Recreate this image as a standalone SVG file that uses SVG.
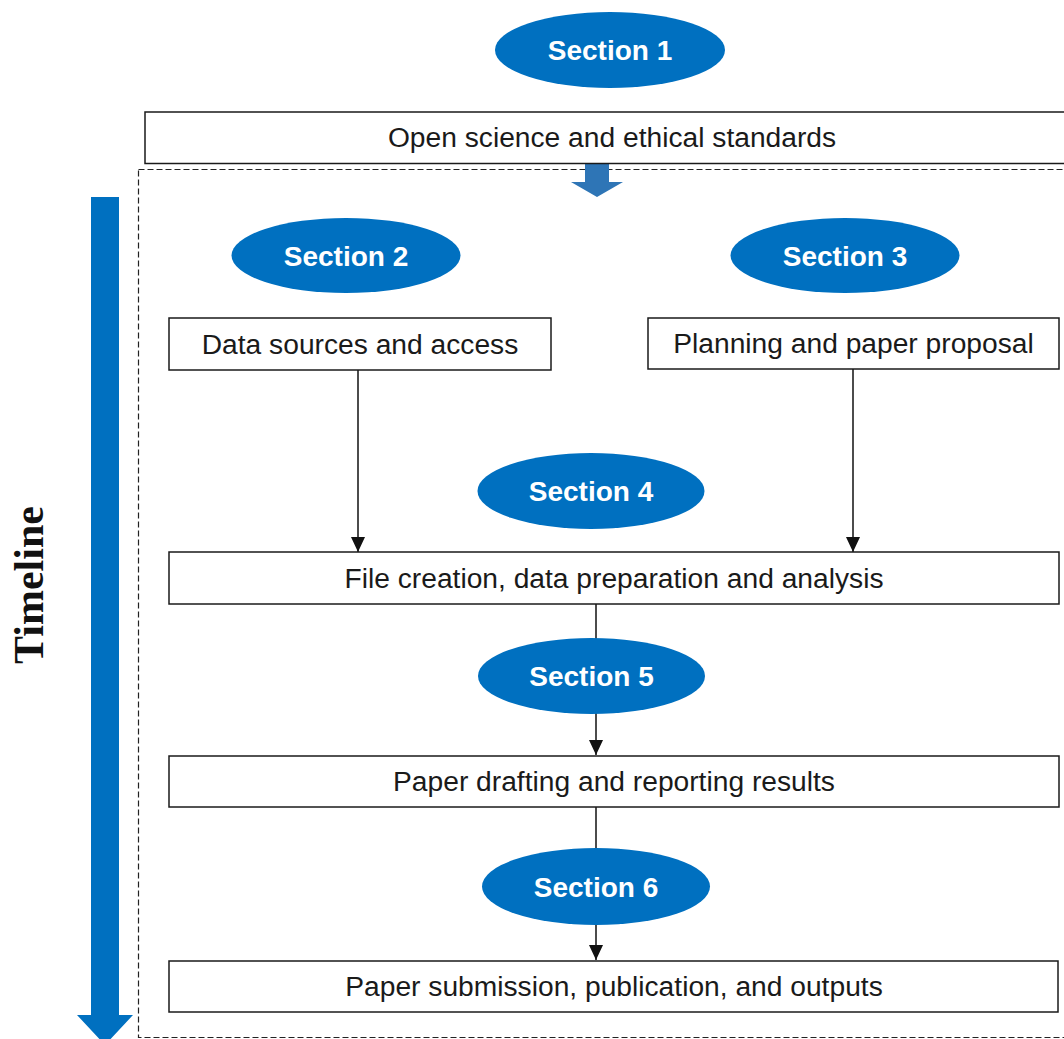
<svg xmlns="http://www.w3.org/2000/svg" width="1064" height="1039" viewBox="0 0 1064 1039">
  <defs>
    <style>
      .box { fill: #ffffff; stroke: #1a1a1a; stroke-width: 1.5; }
      .box-text { font-family: "Liberation Sans", Arial, sans-serif; font-size: 28.2px; fill: #1a1a1a; text-anchor: middle; }
      .sec { fill: #0070C0; }
      .sec-text { font-family: "Liberation Sans", Arial, sans-serif; font-size: 28px; font-weight: bold; fill: #ffffff; text-anchor: middle; }
      .conn { stroke: #111111; stroke-width: 1.5; fill: none; }
    </style>
    <marker id="arrow" viewBox="0 0 15 14" refX="15" refY="7" markerWidth="15" markerHeight="14" markerUnits="userSpaceOnUse" orient="auto">
      <path d="M0,0 L15,7 L0,14 Z" fill="#111111"/>
    </marker>
  </defs>

  <rect width="1064" height="1039" fill="#ffffff"/>

  <!-- dashed frame around the workflow -->
  <rect x="138.5" y="169.5" width="940" height="868" fill="none" stroke="#222222" stroke-width="1.2" stroke-dasharray="6,3"/>

  <!-- timeline arrow -->
  <g id="timeline">
    <polygon points="91,197 119,197 119,1015 133,1015 105,1045 77,1015 91,1015" fill="#0070C0"/>
    <text transform="translate(43,585) rotate(-90)" text-anchor="middle" font-family="Liberation Serif, 'Times New Roman', serif" font-size="42" font-weight="bold" fill="#111111">Timeline</text>
  </g>

  <!-- block arrow below the top box -->
  <polygon points="585,163 609,163 609,182 623,182 597,197 571,182 585,182" fill="#2E75B6"/>

  <!-- connectors -->
  <g id="connectors">
    <line class="conn" x1="358" y1="370" x2="358" y2="552" marker-end="url(#arrow)"/>
    <line class="conn" x1="853" y1="369" x2="853" y2="552" marker-end="url(#arrow)"/>
    <line class="conn" x1="596" y1="604" x2="596" y2="755" marker-end="url(#arrow)"/>
    <line class="conn" x1="596" y1="807" x2="596" y2="960" marker-end="url(#arrow)"/>
  </g>

  <g id="section1">
    <ellipse class="sec" cx="610" cy="50" rx="115" ry="38"/>
    <text class="sec-text" x="610" y="60">Section 1</text>
  </g>
  <g id="open-science">
    <rect class="box" x="145" y="112" width="940" height="51.5"/>
    <text class="box-text" x="612" y="147">Open science and ethical standards</text>
  </g>

  <g id="section2">
    <ellipse class="sec" cx="346" cy="255.5" rx="114.5" ry="37.5"/>
    <text class="sec-text" x="346" y="265.5">Section 2</text>
  </g>
  <g id="section3">
    <ellipse class="sec" cx="845" cy="255.5" rx="114.5" ry="37.5"/>
    <text class="sec-text" x="845" y="265.5">Section 3</text>
  </g>

  <g id="data-sources">
    <rect class="box" x="169" y="318" width="382" height="52"/>
    <text class="box-text" x="360" y="353.5">Data sources and access</text>
  </g>
  <g id="planning">
    <rect class="box" x="648" y="318" width="411" height="51"/>
    <text class="box-text" x="853.5" y="353">Planning and paper proposal</text>
  </g>

  <g id="section4">
    <ellipse class="sec" cx="591" cy="491" rx="113.5" ry="38"/>
    <text class="sec-text" x="591" y="501">Section 4</text>
  </g>
  <g id="file-creation">
    <rect class="box" x="169" y="552" width="890" height="52"/>
    <text class="box-text" x="614" y="587.5">File creation, data preparation and analysis</text>
  </g>

  <g id="section5">
    <ellipse class="sec" cx="591.5" cy="676" rx="113.5" ry="38"/>
    <text class="sec-text" x="591.5" y="686">Section 5</text>
  </g>
  <g id="paper-drafting">
    <rect class="box" x="169" y="756" width="890" height="51"/>
    <text class="box-text" x="614" y="791">Paper drafting and reporting results</text>
  </g>

  <g id="section6">
    <ellipse class="sec" cx="596" cy="886.5" rx="114" ry="38.5"/>
    <text class="sec-text" x="596" y="896.5">Section 6</text>
  </g>
  <g id="submission">
    <rect class="box" x="169" y="961" width="889" height="51"/>
    <text class="box-text" x="614" y="996">Paper submission, publication, and outputs</text>
  </g>
</svg>
